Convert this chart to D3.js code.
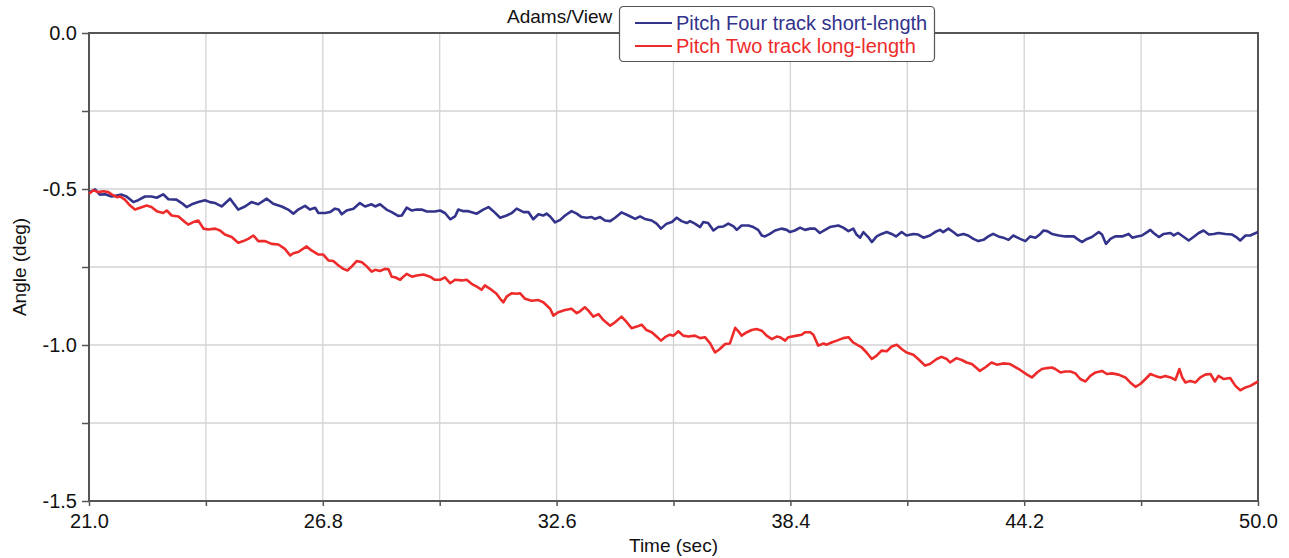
<!DOCTYPE html>
<html>
<head>
<meta charset="utf-8">
<script src="https://cdn.jsdelivr.net/npm/d3@7"></script>
<style>
  html, body { margin: 0; padding: 0; background: #fff; }
  svg { display: block; font-family: "Liberation Sans", Arial, sans-serif; }
</style>
</head>
<body>
<svg id="chart" width="1289" height="558"></svg>
<script>
// pitch angle (deg) vs time (sec)
const fourTrackShort = [
  [21.0,-0.512],[21.15,-0.501],[21.27,-0.518],[21.40,-0.517],[21.56,-0.524],[21.81,-0.518],[21.93,-0.524],[22.10,-0.542],
  [22.22,-0.536],[22.39,-0.524],[22.55,-0.524],[22.68,-0.528],[22.84,-0.517],[22.97,-0.533],[23.17,-0.534],[23.30,-0.545],
  [23.42,-0.558],[23.55,-0.549],[23.71,-0.542],[23.88,-0.536],[24.00,-0.542],[24.13,-0.545],[24.29,-0.556],[24.50,-0.531],
  [24.70,-0.566],[24.87,-0.556],[25.03,-0.542],[25.20,-0.549],[25.41,-0.531],[25.57,-0.547],[25.78,-0.556],[25.94,-0.566],
  [26.07,-0.579],[26.19,-0.566],[26.36,-0.554],[26.48,-0.566],[26.61,-0.560],[26.69,-0.577],[26.86,-0.577],[26.98,-0.574],
  [27.10,-0.563],[27.19,-0.566],[27.27,-0.581],[27.39,-0.569],[27.56,-0.563],[27.72,-0.545],[27.85,-0.556],[28.01,-0.549],
  [28.10,-0.556],[28.22,-0.549],[28.38,-0.566],[28.51,-0.574],[28.67,-0.586],[28.76,-0.585],[28.88,-0.560],[29.01,-0.569],
  [29.13,-0.566],[29.25,-0.566],[29.38,-0.572],[29.58,-0.572],[29.71,-0.569],[29.83,-0.577],[29.96,-0.597],[30.08,-0.588],
  [30.16,-0.566],[30.29,-0.571],[30.41,-0.571],[30.62,-0.579],[30.78,-0.566],[30.91,-0.558],[31.03,-0.571],[31.20,-0.592],
  [31.36,-0.585],[31.49,-0.577],[31.61,-0.563],[31.78,-0.574],[31.90,-0.574],[32.02,-0.597],[32.15,-0.581],[32.27,-0.585],
  [32.35,-0.579],[32.44,-0.588],[32.56,-0.607],[32.69,-0.599],[32.81,-0.585],[32.97,-0.571],[33.10,-0.579],[33.22,-0.590],
  [33.35,-0.592],[33.47,-0.590],[33.55,-0.596],[33.68,-0.590],[33.80,-0.601],[33.93,-0.603],[34.05,-0.592],[34.21,-0.575],
  [34.38,-0.585],[34.55,-0.596],[34.67,-0.588],[34.79,-0.596],[34.96,-0.601],[35.08,-0.611],[35.19,-0.627],[35.33,-0.611],
  [35.46,-0.606],[35.58,-0.592],[35.70,-0.603],[35.83,-0.609],[35.91,-0.603],[36.03,-0.611],[36.16,-0.622],[36.24,-0.606],
  [36.36,-0.609],[36.49,-0.633],[36.61,-0.622],[36.74,-0.620],[36.86,-0.611],[36.99,-0.620],[37.07,-0.631],[37.19,-0.617],
  [37.36,-0.617],[37.48,-0.622],[37.60,-0.631],[37.69,-0.649],[37.77,-0.652],[37.89,-0.644],[38.02,-0.633],[38.18,-0.627],
  [38.31,-0.631],[38.39,-0.638],[38.51,-0.633],[38.64,-0.624],[38.76,-0.631],[38.89,-0.627],[39.01,-0.627],[39.13,-0.641],
  [39.26,-0.631],[39.38,-0.622],[39.59,-0.617],[39.71,-0.624],[39.84,-0.635],[39.96,-0.627],[40.04,-0.646],[40.13,-0.656],
  [40.21,-0.638],[40.33,-0.654],[40.42,-0.670],[40.54,-0.652],[40.66,-0.644],[40.79,-0.638],[40.91,-0.644],[41.02,-0.652],
  [41.16,-0.638],[41.28,-0.649],[41.45,-0.644],[41.57,-0.646],[41.70,-0.656],[41.86,-0.649],[41.99,-0.638],[42.11,-0.631],
  [42.19,-0.638],[42.32,-0.627],[42.44,-0.638],[42.55,-0.649],[42.69,-0.644],[42.81,-0.649],[42.94,-0.660],[43.06,-0.667],
  [43.19,-0.663],[43.31,-0.652],[43.43,-0.644],[43.56,-0.652],[43.68,-0.656],[43.81,-0.663],[43.93,-0.649],[44.10,-0.660],
  [44.23,-0.667],[44.35,-0.652],[44.48,-0.656],[44.60,-0.644],[44.68,-0.633],[44.77,-0.635],[44.89,-0.644],[45.06,-0.649],
  [45.22,-0.652],[45.43,-0.652],[45.55,-0.663],[45.63,-0.670],[45.76,-0.660],[45.88,-0.654],[46.05,-0.638],[46.13,-0.646],
  [46.23,-0.676],[46.34,-0.660],[46.46,-0.652],[46.63,-0.652],[46.79,-0.644],[46.88,-0.656],[47.00,-0.652],[47.12,-0.649],
  [47.25,-0.638],[47.33,-0.631],[47.41,-0.641],[47.54,-0.654],[47.66,-0.644],[47.83,-0.641],[47.91,-0.649],[48.02,-0.641],
  [48.16,-0.654],[48.28,-0.665],[48.40,-0.654],[48.53,-0.641],[48.65,-0.633],[48.78,-0.646],[48.90,-0.644],[49.02,-0.641],
  [49.19,-0.644],[49.36,-0.646],[49.48,-0.656],[49.56,-0.665],[49.69,-0.649],[49.81,-0.649],[49.89,-0.644],[50.0,-0.638]
]

const twoTrackLong = [
  [21.0,-0.515],[21.11,-0.504],[21.23,-0.510],[21.36,-0.507],[21.48,-0.510],[21.56,-0.517],[21.69,-0.526],[21.77,-0.524],
  [21.89,-0.534],[22.02,-0.553],[22.14,-0.566],[22.27,-0.560],[22.43,-0.553],[22.55,-0.558],[22.68,-0.571],[22.84,-0.577],
  [22.93,-0.569],[23.05,-0.585],[23.22,-0.588],[23.38,-0.606],[23.46,-0.614],[23.59,-0.606],[23.71,-0.601],[23.84,-0.627],
  [23.96,-0.630],[24.13,-0.627],[24.25,-0.633],[24.37,-0.646],[24.54,-0.654],[24.70,-0.672],[24.83,-0.667],[24.95,-0.660],
  [25.08,-0.649],[25.20,-0.667],[25.37,-0.667],[25.53,-0.676],[25.70,-0.678],[25.86,-0.692],[25.99,-0.713],[26.07,-0.706],
  [26.19,-0.702],[26.40,-0.684],[26.52,-0.697],[26.69,-0.710],[26.81,-0.710],[26.94,-0.729],[27.06,-0.731],[27.19,-0.745],
  [27.31,-0.756],[27.41,-0.761],[27.52,-0.748],[27.64,-0.731],[27.77,-0.735],[27.89,-0.748],[28.01,-0.765],[28.10,-0.759],
  [28.22,-0.763],[28.34,-0.756],[28.43,-0.757],[28.51,-0.781],[28.59,-0.783],[28.72,-0.791],[28.80,-0.781],[28.88,-0.772],
  [29.01,-0.781],[29.13,-0.777],[29.30,-0.774],[29.46,-0.781],[29.58,-0.791],[29.71,-0.791],[29.83,-0.783],[29.96,-0.802],
  [30.08,-0.791],[30.25,-0.793],[30.37,-0.791],[30.49,-0.804],[30.62,-0.813],[30.74,-0.823],[30.82,-0.809],[30.95,-0.820],
  [31.11,-0.836],[31.20,-0.852],[31.28,-0.863],[31.36,-0.845],[31.49,-0.834],[31.61,-0.836],[31.69,-0.834],[31.82,-0.852],
  [31.98,-0.858],[32.15,-0.856],[32.27,-0.863],[32.44,-0.884],[32.52,-0.906],[32.64,-0.895],[32.81,-0.888],[32.97,-0.884],
  [33.10,-0.898],[33.18,-0.892],[33.30,-0.879],[33.39,-0.890],[33.51,-0.909],[33.64,-0.901],[33.76,-0.920],[33.93,-0.938],
  [34.05,-0.927],[34.21,-0.909],[34.34,-0.927],[34.46,-0.946],[34.59,-0.941],[34.71,-0.935],[34.83,-0.952],[34.96,-0.959],
  [35.08,-0.973],[35.19,-0.986],[35.29,-0.975],[35.41,-0.967],[35.50,-0.970],[35.62,-0.956],[35.74,-0.970],[35.87,-0.973],
  [36.03,-0.970],[36.16,-0.978],[36.28,-0.975],[36.41,-0.995],[36.53,-1.024],[36.65,-1.013],[36.78,-0.997],[36.90,-0.995],
  [37.03,-0.945],[37.11,-0.956],[37.19,-0.970],[37.32,-0.959],[37.44,-0.952],[37.56,-0.949],[37.69,-0.954],[37.81,-0.970],
  [37.94,-0.981],[38.06,-0.973],[38.14,-0.975],[38.27,-0.986],[38.35,-0.975],[38.56,-0.970],[38.68,-0.967],[38.76,-0.959],
  [38.89,-0.959],[38.97,-0.967],[39.09,-1.002],[39.22,-0.995],[39.30,-0.999],[39.42,-0.992],[39.55,-0.986],[39.71,-0.978],
  [39.84,-0.975],[39.96,-0.992],[40.09,-1.002],[40.17,-1.008],[40.29,-1.024],[40.42,-1.045],[40.54,-1.034],[40.66,-1.018],
  [40.79,-1.020],[40.91,-1.005],[41.04,-0.999],[41.16,-1.013],[41.28,-1.024],[41.45,-1.031],[41.57,-1.045],[41.74,-1.066],
  [41.86,-1.061],[42.03,-1.045],[42.15,-1.038],[42.28,-1.045],[42.36,-1.056],[42.52,-1.042],[42.65,-1.048],[42.77,-1.056],
  [42.90,-1.061],[43.02,-1.074],[43.10,-1.083],[43.23,-1.072],[43.39,-1.056],[43.52,-1.063],[43.68,-1.059],[43.85,-1.061],
  [43.97,-1.070],[44.10,-1.080],[44.27,-1.095],[44.39,-1.104],[44.52,-1.088],[44.64,-1.077],[44.77,-1.074],[44.89,-1.072],
  [44.97,-1.077],[45.10,-1.088],[45.22,-1.085],[45.35,-1.085],[45.47,-1.091],[45.59,-1.109],[45.72,-1.117],[45.84,-1.099],
  [45.97,-1.088],[46.13,-1.083],[46.25,-1.093],[46.38,-1.091],[46.54,-1.095],[46.71,-1.104],[46.83,-1.120],[46.96,-1.134],
  [47.08,-1.125],[47.21,-1.109],[47.33,-1.093],[47.45,-1.099],[47.58,-1.104],[47.70,-1.099],[47.83,-1.104],[47.95,-1.112],
  [48.05,-1.077],[48.12,-1.104],[48.20,-1.120],[48.32,-1.115],[48.45,-1.120],[48.57,-1.104],[48.69,-1.095],[48.82,-1.093],
  [48.93,-1.117],[49.02,-1.099],[49.15,-1.109],[49.31,-1.106],[49.44,-1.131],[49.56,-1.145],[49.69,-1.136],[49.81,-1.131],
  [50.0,-1.117]
]

const seriesNames = ['Pitch Four track short-length', 'Pitch Two track long-length']
const seriesColors = ['#33338c', '#ee2b2b']

const xTicks = [21.0, 23.9, 26.8, 29.7, 32.6, 35.5, 38.4, 41.3, 44.2, 47.1, 50.0]
const xLabels = ['21.0', '', '26.8', '', '32.6', '', '38.4', '', '44.2', '', '50.0']
const yTicks = [0, -0.25, -0.5, -0.75, -1.0, -1.25, -1.5]
const yLabels = ['0.0', '', '-0.5', '', '-1.0', '', '-1.5']

const width = 1289
const height = 558
const margin = {top: 33, right: 31, bottom: 57, left: 89}

const svg = d3.select('#chart')

const x = d3.scaleLinear()
  .domain([21, 50])
  .range([margin.left, width - margin.right])

const y = d3.scaleLinear()
  .domain([-1.5, 0])
  .range([height - margin.bottom, margin.top])

// grid
svg.append('g')
  .selectAll('line')
  .data(xTicks)
  .join('line')
  .attr('x1', d => x(d)).attr('x2', d => x(d))
  .attr('y1', y(0)).attr('y2', y(-1.5))
  .attr('stroke', '#d3d3d6')
  .attr('stroke-width', 1.3)

svg.append('g')
  .selectAll('line')
  .data(yTicks)
  .join('line')
  .attr('x1', x(21)).attr('x2', x(50))
  .attr('y1', d => y(d)).attr('y2', d => y(d))
  .attr('stroke', '#d3d3d6')
  .attr('stroke-width', 1.3)

// axes
const xAxis = g => g
  .attr('transform', `translate(0,${height - margin.bottom})`)
  .call(d3.axisBottom(x)
    .tickValues(xTicks)
    .tickFormat((d, i) => xLabels[i])
    .tickSize(5)
    .tickSizeOuter(0))
  .call(g => g.select('.domain').remove())
  .call(g => g.selectAll('.tick line').attr('stroke', '#555').attr('stroke-width', 1.5))
  .call(g => g.selectAll('.tick text')
    .attr('dy', null)
    .attr('y', 27)
    .attr('fill', '#111')
    .attr('font-size', 20)
    .attr('font-family', '"Liberation Sans", Arial, sans-serif'))

const yAxis = g => g
  .attr('transform', `translate(${margin.left},0)`)
  .call(d3.axisLeft(y)
    .tickValues(yTicks)
    .tickFormat((d, i) => yLabels[i])
    .tickSize(7)
    .tickSizeOuter(0))
  .call(g => g.select('.domain').remove())
  .call(g => g.selectAll('.tick line').attr('stroke', '#555').attr('stroke-width', 1.5))
  .call(g => g.selectAll('.tick text')
    .attr('x', -12)
    .attr('fill', '#111')
    .attr('font-size', 20)
    .attr('font-family', '"Liberation Sans", Arial, sans-serif'))

svg.append('g').call(xAxis)
svg.append('g').call(yAxis)

// plot frame
svg.append('rect')
  .attr('x', x(21))
  .attr('y', y(0))
  .attr('width', x(50) - x(21))
  .attr('height', y(-1.5) - y(0))
  .attr('fill', 'none')
  .attr('stroke', '#555')
  .attr('stroke-width', 2)

// curves
const line = d3.line()
  .x(d => x(d[0]))
  .y(d => y(d[1]))

;[fourTrackShort, twoTrackLong].forEach((data, i) => {
  svg.append('path')
    .datum(data)
    .attr('fill', 'none')
    .attr('stroke', seriesColors[i])
    .attr('stroke-width', 2.6)
    .attr('stroke-linejoin', 'round')
    .attr('d', line)
})

// axis titles
svg.append('text')
  .attr('x', (x(21) + x(50)) / 2)
  .attr('y', 552)
  .attr('text-anchor', 'middle')
  .attr('font-size', 19)
  .attr('fill', '#111')
  .text('Time (sec)')

svg.append('text')
  .attr('transform', `translate(26,${(y(0) + y(-1.5)) / 2}) rotate(-90)`)
  .attr('text-anchor', 'middle')
  .attr('font-size', 19)
  .attr('fill', '#111')
  .text('Angle (deg)')

// title
svg.append('text')
  .attr('x', 507)
  .attr('y', 23)
  .attr('font-size', 19)
  .attr('fill', '#111')
  .text('Adams/View')

// legend
const legend = svg.append('g')
legend.append('rect')
  .attr('x', 619.5).attr('y', 6.5)
  .attr('width', 315).attr('height', 55)
  .attr('rx', 4)
  .attr('fill', '#fff')
  .attr('stroke', '#555')
  .attr('stroke-width', 1.2)

seriesNames.forEach((name, i) => {
  const cy = 23 + i * 23
  legend.append('line')
    .attr('x1', 635).attr('x2', 672)
    .attr('y1', cy).attr('y2', cy)
    .attr('stroke', seriesColors[i])
    .attr('stroke-width', 2)
  legend.append('text')
    .attr('x', 676)
    .attr('y', cy + 7)
    .attr('font-size', 20)
    .attr('fill', seriesColors[i])
    .text(name)
})
</script>
</body>
</html>
